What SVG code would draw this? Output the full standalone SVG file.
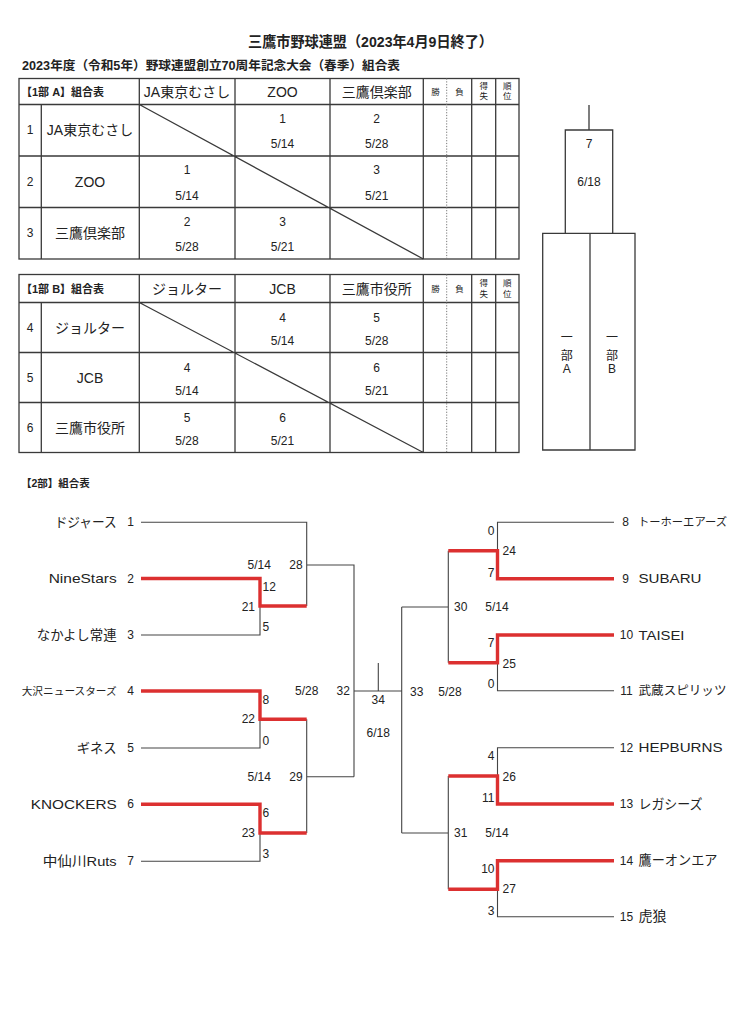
<svg xmlns="http://www.w3.org/2000/svg" width="738" height="1024" viewBox="0 0 738 1024">
<style>
text{font-family:"Liberation Sans","Noto Sans CJK JP",sans-serif;fill:#222;dominant-baseline:central}
.ttl{font-size:14.5px;font-weight:bold}
.sub{font-size:12.5px;font-weight:bold}
.hd{font-size:11px;font-weight:bold}
.nm{font-size:14px;text-anchor:middle}
.sm{font-size:12px;text-anchor:middle}
.tiny{font-size:8.5px;text-anchor:middle}
.tm{font-size:13.5px}
.sc{font-size:12px}
.mid{text-anchor:middle}
.end{text-anchor:end}
.tb{fill:none;stroke:#3a3a3a;stroke-width:1.3}
.dot{fill:none;stroke:#777;stroke-width:1;stroke-dasharray:1.2 1.6}
.ln{fill:none;stroke:#444;stroke-width:1.1}
.rd{fill:none;stroke:#dc3030;stroke-width:3.4;stroke-linejoin:miter}
</style>

<text class="ttl" x="248" y="42" textLength="245" lengthAdjust="spacingAndGlyphs">三鷹市野球連盟（2023年4月9日終了）</text>
<text class="sub" x="22" y="65.5" textLength="378" lengthAdjust="spacingAndGlyphs">2023年度（令和5年）野球連盟創立70周年記念大会（春季）組合表</text>

<!-- Table A -->
<g id="tableA">
<rect class="tb" x="19" y="78.5" width="500" height="180.5"/>
<path class="tb" d="M19,104.5H519M19,156H519M19,207.5H519M41.3,104.5V259M139.3,78.5V259M235,78.5V259M330,78.5V259M423.3,78.5V259M471.7,78.5V259M495.7,78.5V259M139.3,104.5L423.3,259"/>
<path class="dot" d="M446.7,78.5V259"/>
<text class="hd" x="21" y="91.5">【1部 A】組合表</text>
<text class="nm" x="187" y="91.5">JA東京むさし</text>
<text class="nm" x="282.5" y="91.5">ZOO</text>
<text class="nm" x="376.7" y="91.5">三鷹倶楽部</text>
<text class="tiny" x="435.5" y="91.5">勝</text>
<text class="tiny" x="459.5" y="91.5">負</text>
<text class="tiny" x="483.7" y="85.5">得</text><text class="tiny" x="483.7" y="95.5">失</text>
<text class="tiny" x="507.3" y="85.5">順</text><text class="tiny" x="507.3" y="95.5">位</text>
<text class="sm" x="30" y="130.3">1</text><text class="nm" x="90" y="130.3">JA東京むさし</text>
<text class="sm" x="282.5" y="118.5">1</text><text class="sm" x="282.5" y="144.2">5/14</text>
<text class="sm" x="376.7" y="118.5">2</text><text class="sm" x="376.7" y="144.2">5/28</text>
<text class="sm" x="30" y="181.8">2</text><text class="nm" x="90" y="181.8">ZOO</text>
<text class="sm" x="187" y="170">1</text><text class="sm" x="187" y="195.7">5/14</text>
<text class="sm" x="376.7" y="170">3</text><text class="sm" x="376.7" y="195.7">5/21</text>
<text class="sm" x="30" y="233.3">3</text><text class="nm" x="90" y="233.3">三鷹倶楽部</text>
<text class="sm" x="187" y="221.5">2</text><text class="sm" x="187" y="247.2">5/28</text>
<text class="sm" x="282.5" y="221.5">3</text><text class="sm" x="282.5" y="247.2">5/21</text>
</g>

<!-- Table B -->
<g id="tableB">
<rect class="tb" x="19" y="274.5" width="500" height="178"/>
<path class="tb" d="M19,302.5H519M19,352.5H519M19,402.5H519M41.3,302.5V452.5M139.3,274.5V452.5M235,274.5V452.5M330,274.5V452.5M423.3,274.5V452.5M471.7,274.5V452.5M495.7,274.5V452.5M139.3,302.5L423.3,452.5"/>
<path class="dot" d="M446.7,274.5V452.5"/>
<text class="hd" x="21" y="288.5">【1部 B】組合表</text>
<text class="nm" x="187" y="288.5">ジョルター</text>
<text class="nm" x="282.5" y="288.5">JCB</text>
<text class="nm" x="376.7" y="288.5">三鷹市役所</text>
<text class="tiny" x="435.5" y="288.5">勝</text>
<text class="tiny" x="459.5" y="288.5">負</text>
<text class="tiny" x="483.7" y="283">得</text><text class="tiny" x="483.7" y="293.5">失</text>
<text class="tiny" x="507.3" y="283">順</text><text class="tiny" x="507.3" y="293.5">位</text>
<text class="sm" x="30" y="327.5">4</text><text class="nm" x="90" y="327.5">ジョルター</text>
<text class="sm" x="282.5" y="318">4</text><text class="sm" x="282.5" y="341">5/14</text>
<text class="sm" x="376.7" y="318">5</text><text class="sm" x="376.7" y="341">5/28</text>
<text class="sm" x="30" y="377.5">5</text><text class="nm" x="90" y="377.5">JCB</text>
<text class="sm" x="187" y="368">4</text><text class="sm" x="187" y="391">5/14</text>
<text class="sm" x="376.7" y="368">6</text><text class="sm" x="376.7" y="391">5/21</text>
<text class="sm" x="30" y="427.5">6</text><text class="nm" x="90" y="427.5">三鷹市役所</text>
<text class="sm" x="187" y="418">5</text><text class="sm" x="187" y="441">5/28</text>
<text class="sm" x="282.5" y="418">6</text><text class="sm" x="282.5" y="441">5/21</text>
</g>

<!-- Division 1 final -->
<g id="div1final">
<path class="tb" d="M589,105V130M565.3,130H612.7V233.3H565.3ZM542.7,233.3H635V450H542.7ZM590,233.3V450"/>
<text class="sm" x="589" y="144">7</text>
<text class="sm" x="589" y="181.5">6/18</text>
<text class="sm" x="566.7" y="338" style="font-size:12px">一</text>
<text class="sm" x="566.7" y="355.5" style="font-size:12px">部</text>
<text class="sm" x="566.7" y="368.5" style="font-size:12px">A</text>
<text class="sm" x="612" y="338" style="font-size:12px">一</text>
<text class="sm" x="612" y="355.5" style="font-size:12px">部</text>
<text class="sm" x="612" y="368.5" style="font-size:12px">B</text>
</g>

<text class="hd" x="21" y="483.3" style="font-size:10.5px">【2部】組合表</text>

<!-- Teams left -->
<g id="t1"><text class="tm end" x="116.7" y="522.3" textLength="62" lengthAdjust="spacingAndGlyphs">ドジャース</text><text class="sc mid" x="130.5" y="522.3">1</text></g>
<g id="t2"><text class="tm end" x="116.7" y="578.5" textLength="68" lengthAdjust="spacingAndGlyphs">NineStars</text><text class="sc mid" x="130.5" y="578.5">2</text></g>
<g id="t3"><text class="tm end" x="116.7" y="635" textLength="80" lengthAdjust="spacingAndGlyphs">なかよし常連</text><text class="sc mid" x="130.5" y="635">3</text></g>
<g id="t4"><text class="tm end" x="116.7" y="691" style="font-size:10.5px" textLength="95" lengthAdjust="spacingAndGlyphs">大沢ニュースターズ</text><text class="sc mid" x="130.5" y="691">4</text></g>
<g id="t5"><text class="tm end" x="116.7" y="748" textLength="40" lengthAdjust="spacingAndGlyphs">ギネス</text><text class="sc mid" x="130.5" y="748">5</text></g>
<g id="t6"><text class="tm end" x="116.7" y="804.3" textLength="86" lengthAdjust="spacingAndGlyphs">KNOCKERS</text><text class="sc mid" x="130.5" y="804.3">6</text></g>
<g id="t7"><text class="tm end" x="116.7" y="861.3" textLength="74" lengthAdjust="spacingAndGlyphs">中仙川Ruts</text><text class="sc mid" x="130.5" y="861.3">7</text></g>

<!-- Teams right -->
<g id="t8"><text class="sc mid" x="625.5" y="522.3">8</text><text class="tm" x="638" y="522.3" style="font-size:11.5px" textLength="89" lengthAdjust="spacingAndGlyphs">トーホーエアーズ</text></g>
<g id="t9"><text class="sc mid" x="625.5" y="578.7">9</text><text class="tm" x="638.5" y="578.7" textLength="63" lengthAdjust="spacingAndGlyphs">SUBARU</text></g>
<g id="t10"><text class="sc mid" x="626.5" y="635">10</text><text class="tm" x="638.5" y="635" textLength="46" lengthAdjust="spacingAndGlyphs">TAISEI</text></g>
<g id="t11"><text class="sc mid" x="626.5" y="690.7">11</text><text class="tm" x="638.5" y="690.7" style="font-size:12.5px" textLength="88" lengthAdjust="spacingAndGlyphs">武蔵スピリッツ</text></g>
<g id="t12"><text class="sc mid" x="626.5" y="747.7">12</text><text class="tm" x="638.5" y="747.7" textLength="84" lengthAdjust="spacingAndGlyphs">HEPBURNS</text></g>
<g id="t13"><text class="sc mid" x="626.5" y="804">13</text><text class="tm" x="638.5" y="804" textLength="64" lengthAdjust="spacingAndGlyphs">レガシーズ</text></g>
<g id="t14"><text class="sc mid" x="626.5" y="860.7">14</text><text class="tm" x="638.5" y="860.7" textLength="79" lengthAdjust="spacingAndGlyphs">鷹ーオンエア</text></g>
<g id="t15"><text class="sc mid" x="626.5" y="916.7">15</text><text class="tm" x="638.5" y="916.7" textLength="28" lengthAdjust="spacingAndGlyphs">虎狼</text></g>

<!-- Connectors -->
<g id="connectors">
<path class="ln" d="M141,522.3H306.7V606M141,635H260V606M306.7,565H354V776.7M141,748H260V719.3M141,861.3H260V833M306.7,719.3V833M306.7,776.7H354M354,691H401.7M378.3,663V691M401.7,607V833M401.7,607H448.3M401.7,833H448.3M448.3,550.7V662.7M448.3,776V889.3M614,522.3H497.5V550.7M614,690.7H497.5V662.7M614,747.7H497.5V776M614,916.7H497.5V889.3"/>
<path class="rd" d="M141,578.5H260V606H306.7M141,691H260V719.3H306.7M141,804.3H260V833H306.7M448.3,550.7H497.5V578.7H614M614,635H497.5V662.7H448.3M448.3,776H497.5V804H614M614,860.7H497.5V889.3H448.3"/>
</g>

<!-- Scores and match labels -->
<g id="labels">
<text class="sc mid" x="259.3" y="565">5/14</text><text class="sc mid" x="296" y="565">28</text>
<text class="sc" x="262.5" y="586.7">12</text><text class="sc end" x="255" y="607.3">21</text><text class="sc" x="262.5" y="627">5</text>
<text class="sc" x="262.5" y="700">8</text><text class="sc end" x="255" y="719.3">22</text><text class="sc" x="262.5" y="740.7">0</text>
<text class="sc mid" x="259.3" y="776.7">5/14</text><text class="sc mid" x="296" y="776.7">29</text>
<text class="sc" x="262.5" y="812.7">6</text><text class="sc end" x="255" y="832.7">23</text><text class="sc" x="262.5" y="854.3">3</text>
<text class="sc mid" x="306.7" y="691">5/28</text><text class="sc mid" x="343.3" y="691">32</text>
<text class="sc mid" x="378.3" y="699.5">34</text><text class="sc mid" x="378.3" y="733.3">6/18</text>
<text class="sc mid" x="416.7" y="691.5">33</text><text class="sc mid" x="450" y="691.5">5/28</text>
<text class="sc end" x="494.5" y="530.7">0</text><text class="sc" x="502.5" y="550.7">24</text><text class="sc end" x="494.5" y="572.7">7</text>
<text class="sc mid" x="460.7" y="607">30</text><text class="sc mid" x="497" y="607">5/14</text>
<text class="sc end" x="494.5" y="642.7">7</text><text class="sc" x="502.5" y="664.3">25</text><text class="sc end" x="494.5" y="684">0</text>
<text class="sc end" x="494.5" y="756">4</text><text class="sc" x="502.5" y="776.7">26</text><text class="sc end" x="494.5" y="798.3">11</text>
<text class="sc mid" x="460.7" y="832.7">31</text><text class="sc mid" x="497" y="832.7">5/14</text>
<text class="sc end" x="494.5" y="869.3">10</text><text class="sc" x="502.5" y="889.3">27</text><text class="sc end" x="494.5" y="910.7">3</text>
</g>
</svg>
